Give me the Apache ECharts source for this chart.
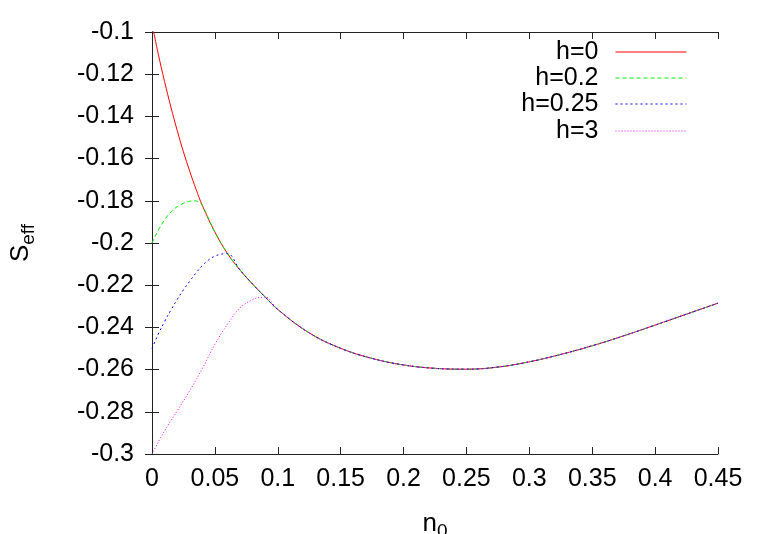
<!DOCTYPE html>
<html>
<head>
<meta charset="utf-8">
<script src="https://cdn.jsdelivr.net/npm/echarts@6/dist/echarts.min.js"></script>
<style>
  html, body { margin: 0; padding: 0; background: #fff; }
  #chart { width: 763px; height: 534px; }
</style>
</head>
<body>
<div id="chart"></div>
<script>
// values
var n0 = [0, 0.005, 0.01, 0.015, 0.02, 0.025, 0.03, 0.035, 0.04, 0.05, 0.06, 0.07, 0.08, 0.09,
    0.1, 0.125, 0.15, 0.175, 0.2, 0.225, 0.25, 0.275, 0.3, 0.325, 0.35, 0.375, 0.4, 0.425, 0.45];
var sH0 = [-0.096, -0.1105, -0.1235, -0.1355, -0.1466, -0.1568, -0.166, -0.1745, -0.1822, -0.1948,
    -0.205, -0.2128, -0.2195, -0.2256, -0.2315, -0.2426, -0.2499, -0.2547, -0.2578, -0.2594,
    -0.2598, -0.2588, -0.2563, -0.2528, -0.2487, -0.244, -0.2389, -0.2337, -0.2285];

// low-n0 branches, each joins the h=0 curve afterwards
var n0H02 = [0, 0.005, 0.01, 0.015, 0.02, 0.025, 0.03, 0.034, 0.037];
var sH02 = [-0.2, -0.194, -0.189, -0.1853, -0.1828, -0.1812, -0.1802, -0.18, -0.1805];
var joinH02 = 0.04;

var n0H025 = [0, 0.005, 0.01, 0.015, 0.02, 0.025, 0.03, 0.035, 0.04, 0.045, 0.05, 0.055, 0.058];
var sH025 = [-0.25, -0.2432, -0.2372, -0.2318, -0.2268, -0.2222, -0.2181, -0.2142, -0.2107,
    -0.208, -0.2062, -0.2053, -0.2051];
var joinH025 = 0.06;

var n0H3 = [0, 0.01, 0.02, 0.03, 0.04, 0.05, 0.06, 0.07, 0.08, 0.085, 0.089];
var sH3 = [-0.3, -0.289, -0.2796, -0.27, -0.2595, -0.248, -0.2385, -0.2307, -0.2268, -0.2259, -0.2257];
var joinH3 = 0.09;

var xTicks = [0, 0.05, 0.1, 0.15, 0.2, 0.25, 0.3, 0.35, 0.4, 0.45];
var yTicks = [-0.3, -0.28, -0.26, -0.24, -0.22, -0.2, -0.18, -0.16, -0.14, -0.12, -0.1];

function pairs(xs, ys) {
    var out = [];
    for (var i = 0; i < xs.length; i++) out.push([xs[i], ys[i]]);
    return out;
}

function branch(xs, ys, from) {
    var out = pairs(xs, ys);
    for (var i = 0; i < n0.length; i++) {
        if (n0[i] >= from) out.push([n0[i], sH0[i]]);
    }
    return out;
}

var font = 'Liberation Sans, Arial, Helvetica, sans-serif';
var frame = { lineStyle: { color: '#222', width: 1 } };
var ticks = { inside: true, length: 7, lineStyle: { color: '#222' } };

function legendAt(name, top) {
    return {
        data: [name],
        right: 76,
        top: top,
        orient: 'vertical',
        align: 'right',
        padding: 0,
        itemWidth: 71,
        itemHeight: 14,
        selectedMode: false,
        itemStyle: { opacity: 0 },
        lineStyle: { width: 1 },
        textStyle: { fontFamily: font, fontSize: 25, color: '#000', lineHeight: 26, padding: [0, 12, 0, 0] }
    };
}

function lineSeries(name, data, color, type) {
    return {
        name: name,
        type: 'line',
        data: data,
        showSymbol: false,
        symbol: 'none',
        smooth: 0.4,
        animation: false,
        lineStyle: { color: color, width: 1, type: type },
        itemStyle: { color: color }
    };
}

var chart = echarts.init(document.getElementById('chart'));
chart.setOption({
    backgroundColor: '#fff',
    animation: false,
    grid: { left: 152, right: 45, top: 32, bottom: 80, outerBoundsMode: 'none' },
    legend: [
        legendAt('h=0', 39),
        legendAt('h=0.2', 65),
        legendAt('h=0.25', 91),
        legendAt('h=3', 118)
    ],
    xAxis: [{
        type: 'value',
        min: xTicks[0], max: xTicks[xTicks.length - 1], interval: 0.05,
        name: '{m|n}{s|0}',
        nameLocation: 'middle',
        nameGap: 52,
        nameTextStyle: {
            rich: {
                m: { fontFamily: font, fontSize: 26, color: '#000' },
                s: { fontFamily: font, fontSize: 19, color: '#000', padding: [16, 0, 0, 0] }
            }
        },
        axisLine: frame,
        axisTick: ticks,
        axisLabel: { fontFamily: font, fontSize: 25, color: '#000', margin: 13 },
        splitLine: { show: false }
    }, {
        type: 'value', position: 'top',
        min: xTicks[0], max: xTicks[xTicks.length - 1], interval: 0.05,
        axisLine: frame,
        axisTick: ticks,
        axisLabel: { show: false },
        splitLine: { show: false }
    }],
    yAxis: [{
        type: 'value',
        min: yTicks[0], max: yTicks[yTicks.length - 1], interval: 0.02,
        name: '{m|S}{s|eff}',
        nameLocation: 'middle',
        nameGap: 114,
        nameTextStyle: {
            rich: {
                m: { fontFamily: font, fontSize: 26, color: '#000' },
                s: { fontFamily: font, fontSize: 19, color: '#000', padding: [16, 0, 0, 0] }
            }
        },
        axisLine: frame,
        axisTick: ticks,
        axisLabel: { fontFamily: font, fontSize: 25, color: '#000', margin: 18 },
        splitLine: { show: false }
    }, {
        type: 'value', position: 'right',
        min: yTicks[0], max: yTicks[yTicks.length - 1], interval: 0.02,
        axisLine: frame,
        axisTick: ticks,
        axisLabel: { show: false },
        splitLine: { show: false }
    }],
    series: [
        lineSeries('h=0', pairs(n0, sH0), '#ff0000', 'solid'),
        lineSeries('h=0.2', branch(n0H02, sH02, joinH02), '#00ee00', [4, 3]),
        lineSeries('h=0.25', branch(n0H025, sH025, joinH025), '#0000ff', [2, 3]),
        lineSeries('h=3', branch(n0H3, sH3, joinH3), '#ff00ff', [1, 2])
    ]
});
</script>
</body>
</html>
